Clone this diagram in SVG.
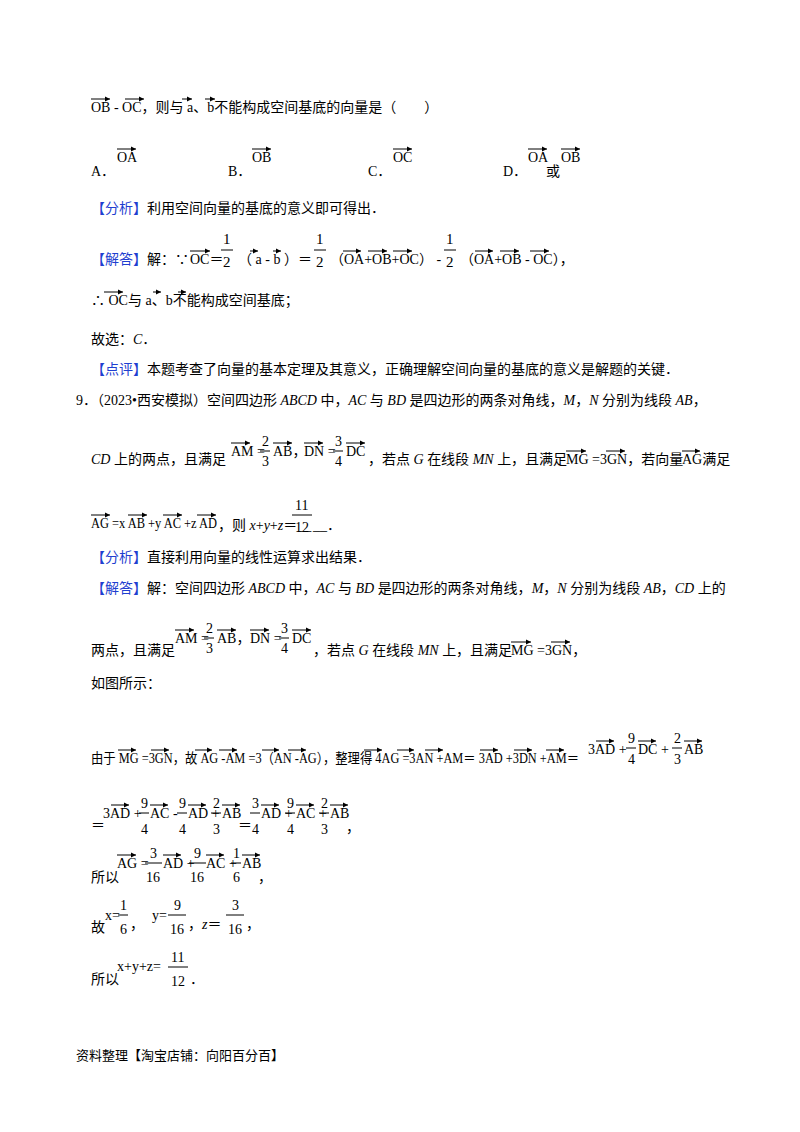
<svg xmlns="http://www.w3.org/2000/svg" width="800" height="1132" viewBox="0 0 800 1132">
<style>
text{font-family:"Liberation Serif","Noto Sans CJK SC",serif;font-size:14px;fill:#000}
.b{fill:#1f3fd0}
.s{font-size:13px}
.f{font-size:15px}
.v line{stroke:#000;stroke-width:1;marker-end:url(#ah)}
.bar{stroke:#000;stroke-width:1}
</style>
<defs><marker id="ah" markerWidth="6" markerHeight="6" refX="5" refY="3" orient="auto" markerUnits="userSpaceOnUse"><path d="M0,0.5 L5,3 L0,5.5 z" fill="#000"/></marker></defs>
<rect width="800" height="1132" fill="#fff"/>
<g id="content">
<text x="91" y="112">OB - OC，则与 a、b不能构成空间基底的向量是（　　）</text>
<text x="91" y="176">A．</text><text x="117" y="162">OA</text>
<text x="228" y="176">B．</text><text x="252" y="162">OB</text>
<text x="368" y="176">C．</text><text x="393" y="162">OC</text>
<text x="503" y="176">D．</text><text x="528" y="162">OA</text><text x="546" y="176">或</text><text x="561" y="162">OB</text>
<text x="91" y="213"><tspan class="b">【分析】</tspan>利用空间向量的基底的意义即可得出．</text>
<text x="91" y="264"><tspan class="b">【解答】</tspan>解：∵</text>
<text x="190" y="264">OC＝</text>
<text x="223" y="244" class="f">1</text><line class="bar" x1="221" y1="250" x2="233" y2="250"/><text x="223" y="267" class="f">2</text>
<text x="238" y="264">（ a - b ）＝</text>
<text x="316" y="244" class="f">1</text><line class="bar" x1="314" y1="250" x2="326" y2="250"/><text x="316" y="267" class="f">2</text>
<text x="330" y="264">（OA+OB+OC） -</text>
<text x="446" y="244" class="f">1</text><line class="bar" x1="444" y1="250" x2="456" y2="250"/><text x="446" y="267" class="f">2</text>
<text x="460" y="264">（OA+OB - OC），</text>
<text x="91" y="305">∴ OC与 a、b不能构成空间基底；</text>
<text x="91" y="344">故选：<tspan font-style="italic">C</tspan>．</text>
<text x="91" y="374"><tspan class="b">【点评】</tspan>本题考查了向量的基本定理及其意义，正确理解空间向量的基底的意义是解题的关键．</text>
<text x="76" y="405">9．（2023•西安模拟）空间四边形 <tspan font-style="italic">ABCD</tspan> 中，<tspan font-style="italic">AC</tspan> 与 <tspan font-style="italic">BD</tspan> 是四边形的两条对角线，<tspan font-style="italic">M</tspan>，<tspan font-style="italic">N</tspan> 分别为线段 <tspan font-style="italic">AB</tspan>，</text>
<text x="91" y="464"><tspan font-style="italic">CD</tspan> 上的两点，且满足</text>
<text x="231" y="456">AM =</text><text x="262" y="446">2</text><line class="bar" x1="260" y1="451" x2="270" y2="451"/><text x="262" y="466">3</text><text x="273" y="456">AB，</text>
<text x="304" y="456">DN =</text><text x="335" y="446">3</text><line class="bar" x1="333" y1="451" x2="343" y2="451"/><text x="335" y="466">4</text><text x="346" y="456">DC</text>
<text x="368" y="464">，若点 <tspan font-style="italic">G</tspan> 在线段 <tspan font-style="italic">MN</tspan> 上，且满足</text>
<text x="566" y="464">MG =3GN，若向量</text><text x="682" y="464">AG满足</text>
<text x="91" y="528" textLength="126" lengthAdjust="spacingAndGlyphs">AG =x AB +y AC +z AD</text>
<text x="218" y="530">，则 <tspan font-style="italic">x</tspan>+<tspan font-style="italic">y</tspan>+<tspan font-style="italic">z</tspan>＝__</text>
<text x="295" y="510">11</text><line class="bar" x1="292" y1="515" x2="312" y2="515"/><text x="295" y="532">12</text><text x="313" y="530">__．</text>
<text x="91" y="562"><tspan class="b">【分析】</tspan>直接利用向量的线性运算求出结果．</text>
<text x="91" y="593"><tspan class="b">【解答】</tspan>解：空间四边形 <tspan font-style="italic">ABCD</tspan> 中，<tspan font-style="italic">AC</tspan> 与 <tspan font-style="italic">BD</tspan> 是四边形的两条对角线，<tspan font-style="italic">M</tspan>，<tspan font-style="italic">N</tspan> 分别为线段 <tspan font-style="italic">AB</tspan>，<tspan font-style="italic">CD</tspan> 上的</text>
<text x="91" y="655">两点，且满足</text>
<text x="175" y="643">AM =</text><text x="206" y="633">2</text><line class="bar" x1="204" y1="638" x2="214" y2="638"/><text x="206" y="653">3</text><text x="217" y="643">AB，</text>
<text x="250" y="643">DN =</text><text x="281" y="633">3</text><line class="bar" x1="279" y1="638" x2="289" y2="638"/><text x="281" y="653">4</text><text x="292" y="643">DC</text>
<text x="313" y="655">，若点 <tspan font-style="italic">G</tspan> 在线段 <tspan font-style="italic">MN</tspan> 上，且满足</text><text x="511" y="655">MG =3GN，</text>
<text x="91" y="688">如图所示：</text>
<text x="91" y="763" textLength="488" lengthAdjust="spacingAndGlyphs">由于 MG =3GN，故 AG -AM =3（AN -AG），整理得 4AG =3AN +AM＝ 3AD +3DN +AM＝</text>
<text x="588" y="754">3AD +</text><text x="628" y="743">9</text><line class="bar" x1="626" y1="748" x2="636" y2="748"/><text x="628" y="764">4</text><text x="638" y="754">DC +</text><text x="674" y="743">2</text><line class="bar" x1="672" y1="748" x2="682" y2="748"/><text x="674" y="764">3</text><text x="684" y="754">AB</text>
<text x="91" y="830">＝</text>
<text x="103" y="818">3AD +</text><text x="141" y="808">9</text><line class="bar" x1="139" y1="813" x2="149" y2="813"/><text x="141" y="834">4</text><text x="150" y="818">AC -</text>
<text x="179" y="808">9</text><line class="bar" x1="177" y1="813" x2="187" y2="813"/><text x="179" y="834">4</text><text x="188" y="818">AD +</text>
<text x="213" y="808">2</text><line class="bar" x1="211" y1="813" x2="221" y2="813"/><text x="213" y="834">3</text><text x="222" y="818">AB</text><text x="238" y="830">＝</text>
<text x="252" y="808">3</text><line class="bar" x1="250" y1="813" x2="260" y2="813"/><text x="252" y="834">4</text><text x="261" y="818">AD +</text>
<text x="287" y="808">9</text><line class="bar" x1="285" y1="813" x2="295" y2="813"/><text x="287" y="834">4</text><text x="296" y="818">AC +</text>
<text x="321" y="808">2</text><line class="bar" x1="319" y1="813" x2="329" y2="813"/><text x="321" y="834">3</text><text x="330" y="818">AB</text><text x="346" y="832">，</text>
<text x="91" y="882">所以</text>
<text x="117" y="868">AG =</text><text x="150" y="858">3</text><line class="bar" x1="145" y1="863" x2="162" y2="863"/><text x="146" y="882">16</text><text x="163" y="868">AD +</text>
<text x="194" y="858">9</text><line class="bar" x1="189" y1="863" x2="206" y2="863"/><text x="190" y="882">16</text><text x="206" y="868">AC +</text>
<text x="233" y="858">1</text><line class="bar" x1="231" y1="863" x2="241" y2="863"/><text x="233" y="882">6</text><text x="242" y="868">AB</text><text x="258" y="882">，</text>
<text x="91" y="932">故</text>
<text x="105" y="920">x=</text><text x="120" y="910">1</text><line class="bar" x1="118" y1="915" x2="128" y2="915"/><text x="120" y="934">6</text><text x="130" y="929">，</text>
<text x="152" y="920">y=</text><text x="174" y="910">9</text><line class="bar" x1="168" y1="915" x2="186" y2="915"/><text x="170" y="934">16</text>
<text x="188" y="929">，<tspan font-style="italic">z</tspan>＝</text><text x="232" y="910">3</text><line class="bar" x1="226" y1="915" x2="244" y2="915"/><text x="228" y="934">16</text><text x="246" y="929">，</text>
<text x="91" y="984">所以</text>
<text x="117" y="971">x+y+z=</text><text x="171" y="962">11</text><line class="bar" x1="168" y1="967" x2="188" y2="967"/><text x="171" y="986">12</text><text x="190" y="984">．</text>
<text x="76" y="1060" class="s">资料整理【淘宝店铺：向阳百分百】</text>
</g>
<g id="connectors" class="v">
<line x1="91" y1="99" x2="110" y2="99"/><line x1="125" y1="99" x2="144" y2="99"/><line x1="182" y1="99" x2="192" y2="99"/><line x1="205" y1="99" x2="215" y2="99"/>
<line x1="117" y1="149" x2="136" y2="149"/><line x1="252" y1="149" x2="271" y2="149"/><line x1="393" y1="149" x2="412" y2="149"/><line x1="528" y1="149" x2="547" y2="149"/><line x1="561" y1="149" x2="580" y2="149"/>
<line x1="190" y1="251" x2="210" y2="251"/><line x1="250" y1="251" x2="258" y2="251"/><line x1="273" y1="251" x2="281" y2="251"/><line x1="343" y1="251" x2="361" y2="251"/><line x1="368" y1="251" x2="387" y2="251"/><line x1="393" y1="251" x2="412" y2="251"/><line x1="475" y1="251" x2="493" y2="251"/><line x1="500" y1="251" x2="519" y2="251"/><line x1="530" y1="251" x2="549" y2="251"/>
<line x1="104" y1="292" x2="123" y2="292"/><line x1="153" y1="292" x2="161" y2="292"/><line x1="178" y1="292" x2="186" y2="292"/>
<line x1="231" y1="443" x2="250" y2="443"/><line x1="273" y1="443" x2="292" y2="443"/><line x1="304" y1="443" x2="323" y2="443"/><line x1="346" y1="443" x2="365" y2="443"/><line x1="566" y1="451" x2="586" y2="451"/><line x1="606" y1="451" x2="625" y2="451"/><line x1="682" y1="451" x2="700" y2="451"/>
<line x1="91" y1="515" x2="110" y2="515"/><line x1="128" y1="515" x2="147" y2="515"/><line x1="163" y1="515" x2="182" y2="515"/><line x1="197" y1="515" x2="216" y2="515"/>
<line x1="175" y1="630" x2="194" y2="630"/><line x1="217" y1="630" x2="236" y2="630"/><line x1="250" y1="630" x2="269" y2="630"/><line x1="292" y1="630" x2="311" y2="630"/><line x1="511" y1="642" x2="531" y2="642"/><line x1="551" y1="642" x2="570" y2="642"/>
<line x1="118" y1="750" x2="136" y2="750"/><line x1="151" y1="750" x2="169" y2="750"/><line x1="195" y1="750" x2="212" y2="750"/><line x1="219" y1="750" x2="237" y2="750"/><line x1="262" y1="750" x2="279" y2="750"/><line x1="288" y1="750" x2="306" y2="750"/><line x1="364" y1="750" x2="382" y2="750"/><line x1="397" y1="750" x2="414" y2="750"/><line x1="425" y1="750" x2="443" y2="750"/><line x1="480" y1="750" x2="498" y2="750"/><line x1="514" y1="750" x2="532" y2="750"/><line x1="546" y1="750" x2="564" y2="750"/>
<line x1="596" y1="741" x2="614" y2="741"/><line x1="638" y1="741" x2="656" y2="741"/><line x1="684" y1="741" x2="702" y2="741"/>
<line x1="111" y1="805" x2="129" y2="805"/><line x1="150" y1="805" x2="168" y2="805"/><line x1="188" y1="805" x2="206" y2="805"/><line x1="222" y1="805" x2="240" y2="805"/><line x1="261" y1="805" x2="279" y2="805"/><line x1="296" y1="805" x2="314" y2="805"/><line x1="330" y1="805" x2="348" y2="805"/>
<line x1="117" y1="855" x2="136" y2="855"/><line x1="163" y1="855" x2="181" y2="855"/><line x1="206" y1="855" x2="224" y2="855"/><line x1="242" y1="855" x2="260" y2="855"/>
</g>
</svg>
